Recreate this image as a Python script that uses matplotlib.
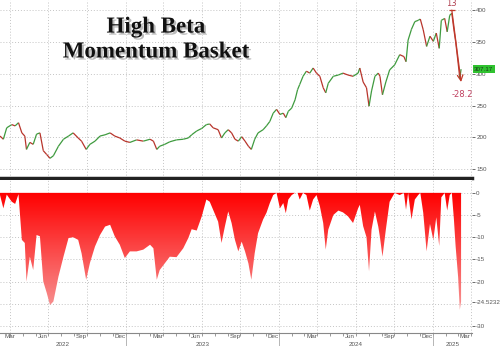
import numpy as np
import pandas as pd
import matplotlib
matplotlib.use("Agg")
import matplotlib.pyplot as plt
import matplotlib.dates as mdates
import matplotlib.patheffects as pe
import matplotlib.transforms as mtransforms
from matplotlib.collections import LineCollection
from matplotlib.colors import LinearSegmentedColormap

# --- data ---
dates = [
    "2022-03-08", "2022-03-16", "2022-03-24", "2022-04-05", "2022-04-13", "2022-04-21",
    "2022-04-29", "2022-05-06", "2022-05-10", "2022-05-18", "2022-05-26", "2022-06-03",
    "2022-06-11", "2022-06-19", "2022-06-27", "2022-07-05", "2022-07-13", "2022-07-25",
    "2022-08-06", "2022-08-18", "2022-08-29", "2022-09-10", "2022-09-18", "2022-09-29",
    "2022-10-08", "2022-10-20", "2022-11-01", "2022-11-13", "2022-11-25", "2022-12-06",
    "2022-12-18", "2022-12-30", "2023-01-11", "2023-01-27", "2023-02-12", "2023-02-28",
    "2023-03-08", "2023-03-16", "2023-03-23", "2023-04-04", "2023-04-16", "2023-05-02",
    "2023-05-18", "2023-05-30", "2023-06-07", "2023-06-19", "2023-07-01", "2023-07-12",
    "2023-07-20", "2023-07-28", "2023-08-09", "2023-08-17", "2023-08-25", "2023-09-02",
    "2023-09-10", "2023-09-18", "2023-09-26", "2023-10-04", "2023-10-12", "2023-10-20",
    "2023-10-27", "2023-11-04", "2023-11-12", "2023-11-24", "2023-12-02", "2023-12-10",
    "2023-12-18", "2023-12-26", "2024-01-03", "2024-01-11", "2024-01-17", "2024-01-23",
    "2024-01-31", "2024-02-08", "2024-02-14", "2024-02-19", "2024-02-27", "2024-03-06",
    "2024-03-14", "2024-03-22", "2024-03-30", "2024-04-07", "2024-04-15", "2024-04-21",
    "2024-04-27", "2024-05-09", "2024-05-21", "2024-06-01", "2024-06-13", "2024-06-25",
    "2024-07-07", "2024-07-11", "2024-07-19", "2024-07-27", "2024-08-02", "2024-08-08",
    "2024-08-16", "2024-08-24", "2024-08-28", "2024-09-03", "2024-09-11", "2024-09-20",
    "2024-10-02", "2024-10-14", "2024-10-24", "2024-10-29", "2024-11-03", "2024-11-11",
    "2024-11-19", "2024-11-27", "2024-12-02", "2024-12-09", "2024-12-17", "2024-12-25",
    "2025-01-02", "2025-01-09", "2025-01-16", "2025-01-21", "2025-01-29", "2025-02-04",
    "2025-02-10", "2025-02-15", "2025-02-20", "2025-02-24", "2025-03-02", "2025-03-06",
    "2025-03-09",
]
price = [
    202, 197, 215, 220, 218, 223, 207, 202, 181, 192, 189, 205,
    207, 179, 173, 167, 171, 186, 197, 202, 207, 199, 194, 181,
    189, 194, 202, 204, 207, 202, 199, 194, 192, 196, 194, 197,
    194, 181, 186, 189, 193, 196, 197, 199, 204, 210, 214, 220,
    221, 215, 212, 199, 207, 212, 207, 197, 194, 201, 194, 186,
    181, 197, 207, 212, 218, 225, 238, 244, 236, 238, 231, 241,
    246, 259, 275, 283, 296, 304, 301, 309, 301, 296, 278, 270,
    285, 296, 298, 301, 298, 296, 301, 309, 287, 278, 249, 273,
    296, 301, 296, 267, 287, 306, 314, 330, 327, 319, 353, 370,
    382, 384, 386, 369, 343, 359, 351, 364, 340, 384, 387, 366,
    392, 395, 369, 351, 317, 293, 307.17,
]
drawdown = [
    -0.5, -3.5, -0.4, -2.0, -2.5, -0.3, -10.6, -11.3, -20.0, -14.4, -17.4, -9.5,
    -9.8, -20.0, -22.5, -25.3, -24.5, -18.9, -14.4, -10.2, -10.0, -10.6, -13.6, -19.6,
    -15.8, -12.1, -9.5, -7.6, -7.2, -9.8, -11.7, -14.7, -13.2, -13.2, -12.8, -11.7,
    -12.5, -19.6, -17.4, -15.9, -14.4, -14.5, -12.5, -10.2, -8.2, -8.5, -5.3, -1.5,
    -2.0, -3.8, -6.5, -11.3, -7.6, -4.2, -6.8, -10.6, -13.2, -11.0, -13.2, -15.9,
    -19.6, -13.6, -9.1, -6.0, -4.5, -2.3, -0.5, 0.0, -3.5, -2.3, -4.6, -1.5,
    -0.5, 0.0, 0.0, -1.5, 0.0, -0.5, -4.0, -1.5, -0.5, -3.0, -6.8, -12.8,
    -8.3, -5.0, -4.0, -4.4, -5.3, -6.8, -3.5, -2.7, -7.5, -10.0, -17.7, -8.3,
    -4.2, -7.6, -10.0, -14.4, -8.3, -2.0, 0.0, -0.5, 0.0, -3.8, 0.0, -6.0,
    -1.5, -0.5, 0.0, -4.5, -13.2, -7.0, -10.6, -5.5, -12.0, -1.0, 0.0, -4.0,
    -0.5, 0.0, -6.0, -12.0, -19.0, -26.4, -24.5232,
]
peak_high = 400
trough_low = 287
move_pct = -28.2
move_days = 13

price_ticks = [150, 200, 250, 300, 350, 400]
dd_ticks = [0, -5, -10, -15, -20, -25, -30]

x = mdates.date2num(pd.to_datetime(dates))
p = np.array(price)
dd = np.array(drawdown)
x0 = mdates.date2num(pd.Timestamp("2022-03-08"))
x1 = mdates.date2num(pd.Timestamp("2025-04-04"))

fig = plt.figure(figsize=(5, 3.46), dpi=100)
ax1 = fig.add_axes([0, 0.4855, 0.944, 0.5145])
ax2 = fig.add_axes([0, 0.0376, 0.944, 0.4422])

grid_kw = dict(color="#c4c4c4", lw=0.7, ls=(0, (1, 2)), zorder=0)
quarters = mdates.date2num(pd.date_range("2022-04-01", "2025-04-01", freq="QS"))
for ax in (ax1, ax2):
    ax.set_xlim(x0, x1)
    for q in quarters:
        ax.axvline(q, **grid_kw)
    for s in ["left", "top", "right"]:
        ax.spines[s].set_visible(False)
    ax.yaxis.tick_right()
    ax.tick_params(axis="y", length=2, width=0.6, pad=1, labelsize=4.5,
                   colors="#555555", labelfontfamily="Liberation Sans")

# --- top: price (green up / red down) ---
segs = np.stack([np.column_stack([x[:-1], p[:-1]]), np.column_stack([x[1:], p[1:]])], axis=1)
cols = np.where(np.diff(p) >= 0, "#3f9b3f", "#b8352c")
ax1.add_collection(LineCollection(segs, colors=cols, linewidths=0.9, zorder=3))
ax1.set_ylim(136, 416)
ax1.set_yticks(price_ticks)
for t in price_ticks:
    ax1.axhline(t, **grid_kw)
ax1.set_xticks([])
ax1.spines["bottom"].set_linewidth(2.5)
ax1.spines["bottom"].set_color("#222222")

# last value box
trans1 = mtransforms.blended_transform_factory(ax1.transAxes, ax1.transData)
ax1.text(1.004, p[-1], f"{p[-1]:.2f}", transform=trans1, ha="left", va="center",
         fontsize=4.5, family="Liberation Sans", color="#1a3a1a", zorder=10, clip_on=False,
         bbox=dict(facecolor="#2fc22f", edgecolor="none", pad=1.0))

# peak-to-trough annotation
i_peak = int(np.argmax(p))
ax1.annotate("", xy=(x[-1], trough_low), xytext=(x[i_peak], peak_high),
             arrowprops=dict(arrowstyle="->", color="#c0392b", lw=0.9,
                             shrinkA=0, shrinkB=0), zorder=5)
ax1.plot([x[i_peak]], [peak_high], marker="_", color="#c0392b", ms=4, mew=0.9, zorder=5)
ax1.text(x[i_peak], peak_high + 3, str(move_days), ha="center", va="bottom",
         fontsize=6, color="#b04050", clip_on=False)
ax1.text(x[-1] + 2, trough_low - 20, f"{move_pct:.1f}", ha="center", va="center",
         fontsize=6, color="#c04060")

# title
shadow = [pe.withSimplePatchShadow(offset=(1.5, -1.5), shadow_rgbFace="#777777", alpha=0.5)]
ax1.text(0.33, 0.848, "High Beta", transform=ax1.transAxes, ha="center", va="center",
         fontsize=16.5, fontweight="bold", family="Liberation Serif", color="#111111",
         path_effects=shadow)
ax1.text(0.33, 0.708, "Momentum Basket", transform=ax1.transAxes, ha="center", va="center",
         fontsize=16.5, fontweight="bold", family="Liberation Serif", color="#111111",
         path_effects=shadow)

# --- bottom: drawdown with gradient fill ---
ax2.set_ylim(-31.6, 2.9)
poly = ax2.fill_between(x, dd, 0, facecolor="none", edgecolor="none")
cmap = LinearSegmentedColormap.from_list("dd", ["#ff0000", "#f6a8a8"])
grad = np.linspace(0, 1, 256).reshape(-1, 1)
im = ax2.imshow(grad, cmap=cmap, extent=[x0, x1, -30, 0], aspect="auto",
                origin="upper", zorder=2)
im.set_clip_path(poly.get_paths()[0], transform=ax2.transData)
for t in dd_ticks:
    ax2.axhline(t, **grid_kw)
tick_vals = [t for t in dd_ticks if t != -25] + [dd[-1]]
ax2.set_yticks(tick_vals)
ax2.set_yticklabels([f"{t:g}" for t in tick_vals[:-1]] + [f"{dd[-1]:.4f}"])
ax2.spines["bottom"].set_color("#888888")
ax2.spines["bottom"].set_linewidth(0.8)

# month ticks and labels
label_dates = pd.date_range("2022-03-18", "2025-03-18", freq=pd.DateOffset(months=3))
ax2.set_xticks(mdates.date2num(label_dates))
ax2.set_xticklabels([d.strftime("%b") for d in label_dates])
ax2.set_xticks(mdates.date2num(pd.date_range("2022-04-01", "2025-04-01", freq="MS")), minor=True)
ax2.tick_params(axis="x", which="major", length=0, pad=0.8, labelsize=4.5,
                colors="#555555", labelfontfamily="Liberation Sans")
ax2.tick_params(axis="x", which="minor", length=2, width=0.6, color="#888888")
ax2.get_xticklabels()[0].set_horizontalalignment("left")

# year labels
trans2 = mtransforms.blended_transform_factory(ax2.transData, ax2.transAxes)
for yr in [2022, 2023, 2024, 2025]:
    a = max(x0, mdates.date2num(pd.Timestamp(f"{yr}-01-01")))
    b = min(x1, mdates.date2num(pd.Timestamp(f"{yr + 1}-01-01")))
    ax2.text((a + b) / 2, -0.072, str(yr), transform=trans2, ha="center", va="center",
             fontsize=4.5, family="Liberation Sans", color="#555555", clip_on=False)
    if yr > 2022:
        ax2.plot([a, a], [0, -0.09], transform=trans2, color="#aaaaaa", lw=0.6, clip_on=False)

plt.savefig("out.png", dpi=100)
